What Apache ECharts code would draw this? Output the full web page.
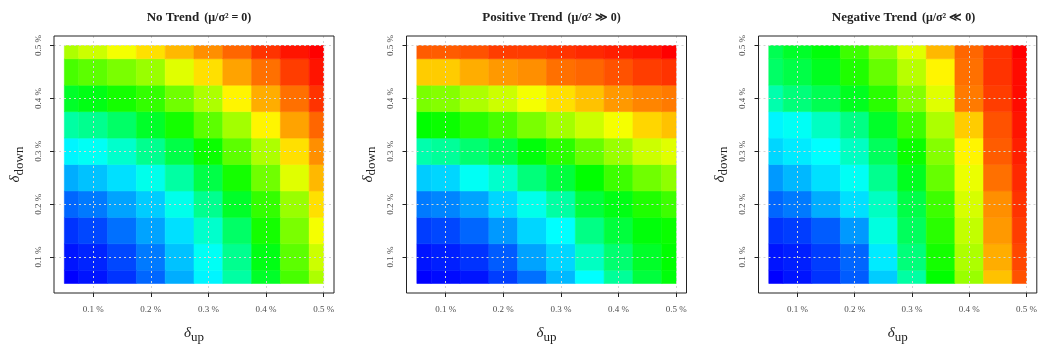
<!DOCTYPE html>
<html>
<head>
<meta charset="utf-8">
<script src="https://cdn.jsdelivr.net/npm/echarts@6/dist/echarts.min.js"></script>
<style>
  html, body { margin: 0; padding: 0; background: #fff; }
  #chart { width: 1040px; height: 349px; }
</style>
</head>
<body>
<div id="chart"></div>
<script>
// grid points (in %) where the colour level was read
const upVals = [0.05, 0.1, 0.15, 0.2, 0.25, 0.3, 0.35, 0.4, 0.45, 0.5];
const downVals = [0.05, 0.1, 0.15, 0.2, 0.25, 0.3, 0.35, 0.4, 0.45, 0.5];
const tickVals = [0.1, 0.2, 0.3, 0.4, 0.5];

// colour level 0 (blue) .. 1 (red), one row per delta_down, columns = delta_up
const noTrend = [
  [0.00, 0.02, 0.05, 0.10, 0.17, 0.24, 0.34, 0.46, 0.57, 0.67],
  [0.02, 0.035, 0.07, 0.12, 0.19, 0.26, 0.36, 0.48, 0.59, 0.70],
  [0.05, 0.07, 0.11, 0.16, 0.22, 0.30, 0.40, 0.52, 0.62, 0.74],
  [0.10, 0.12, 0.16, 0.20, 0.27, 0.36, 0.46, 0.55, 0.65, 0.78],
  [0.17, 0.19, 0.22, 0.27, 0.34, 0.43, 0.52, 0.61, 0.72, 0.82],
  [0.24, 0.26, 0.30, 0.36, 0.43, 0.51, 0.59, 0.67, 0.78, 0.86],
  [0.34, 0.36, 0.40, 0.46, 0.52, 0.59, 0.66, 0.76, 0.84, 0.90],
  [0.46, 0.48, 0.52, 0.55, 0.61, 0.67, 0.76, 0.83, 0.89, 0.95],
  [0.57, 0.59, 0.62, 0.65, 0.72, 0.78, 0.84, 0.89, 0.94, 0.98],
  [0.67, 0.70, 0.74, 0.78, 0.82, 0.86, 0.90, 0.95, 0.98, 1.00]
];
const positiveTrend = [
  [0.00, 0.01, 0.02, 0.06, 0.11, 0.18, 0.25, 0.35, 0.44, 0.49],
  [0.02, 0.03, 0.05, 0.09, 0.16, 0.21, 0.31, 0.39, 0.46, 0.50],
  [0.06, 0.07, 0.10, 0.15, 0.21, 0.25, 0.37, 0.44, 0.49, 0.51],
  [0.12, 0.13, 0.16, 0.21, 0.27, 0.34, 0.44, 0.48, 0.53, 0.56],
  [0.20, 0.21, 0.26, 0.30, 0.38, 0.44, 0.50, 0.56, 0.61, 0.64],
  [0.33, 0.35, 0.39, 0.43, 0.49, 0.54, 0.60, 0.65, 0.70, 0.72],
  [0.50, 0.51, 0.54, 0.57, 0.62, 0.66, 0.70, 0.74, 0.79, 0.81],
  [0.62, 0.63, 0.67, 0.70, 0.74, 0.78, 0.81, 0.85, 0.87, 0.88],
  [0.80, 0.80, 0.83, 0.85, 0.86, 0.89, 0.90, 0.92, 0.94, 0.95],
  [0.91, 0.91, 0.92, 0.94, 0.94, 0.95, 0.96, 0.97, 0.98, 1.00]
];
const negativeTrend = [
  [0.00, 0.02, 0.05, 0.09, 0.20, 0.34, 0.50, 0.65, 0.81, 0.92],
  [0.02, 0.03, 0.06, 0.10, 0.23, 0.38, 0.52, 0.67, 0.83, 0.93],
  [0.05, 0.06, 0.09, 0.15, 0.28, 0.41, 0.54, 0.69, 0.85, 0.94],
  [0.10, 0.12, 0.17, 0.22, 0.31, 0.43, 0.56, 0.71, 0.86, 0.95],
  [0.15, 0.18, 0.22, 0.26, 0.36, 0.47, 0.60, 0.73, 0.89, 0.96],
  [0.21, 0.23, 0.25, 0.31, 0.41, 0.51, 0.63, 0.76, 0.91, 0.97],
  [0.24, 0.26, 0.31, 0.37, 0.46, 0.56, 0.67, 0.80, 0.92, 0.98],
  [0.33, 0.38, 0.42, 0.47, 0.54, 0.63, 0.72, 0.88, 0.94, 0.99],
  [0.40, 0.43, 0.47, 0.53, 0.60, 0.68, 0.76, 0.89, 0.95, 0.99],
  [0.42, 0.46, 0.49, 0.56, 0.64, 0.72, 0.82, 0.90, 0.95, 1.00]
];

const panelTitles = [
  ['No Trend', '(μ/σ² = 0)'],
  ['Positive Trend', '(μ/σ² ≫ 0)'],
  ['Negative Trend', '(μ/σ² ≪ 0)']
];
const panelData = [noTrend, positiveTrend, negativeTrend];

const serif = '"Liberation Serif", "DejaVu Serif", serif';
const panelLeft = [54, 406.5, 758.5];
const boxW = 280, boxTop = 36, boxH = 264;
const half = 0.025, lo = 0.05, hi = 0.5;

function toTriples(grid) {
  const out = [];
  grid.forEach((row, i) => {
    row.forEach((v, j) => out.push([upVals[j], downVals[i], v]));
  });
  return out;
}

function renderCell(params, api) {
  const x = api.value(0), y = api.value(1);
  const p0 = api.coord([Math.max(x - half, lo), Math.min(y + half, hi)]);
  const p1 = api.coord([Math.min(x + half, hi), Math.max(y - half, lo)]);
  const c = api.visual('color');
  return {
    type: 'rect',
    shape: { x: p0[0], y: p0[1], width: p1[0] - p0[0], height: p1[1] - p0[1] },
    style: { fill: c, stroke: c, lineWidth: 0.6 }
  };
}

const nameRich = {
  d: { fontSize: 15, fontFamily: serif, fontStyle: 'italic', color: '#222' },
  s: { fontSize: 13, fontFamily: serif, color: '#222', padding: [8, 0, 0, 0] }
};
const labelStyle = { fontSize: 9, fontFamily: serif, color: '#4d4d4d' };
const gridLine = { show: true, lineStyle: { color: '#d3d3d3', type: [2, 3], width: 1 } };

const chart = echarts.init(document.getElementById('chart'));
const option = {
  backgroundColor: '#fff',
  animation: false,
  title: panelTitles.map((t, i) => ({
    text: '{b|' + t[0] + '} {m|' + t[1] + '}',
    left: panelLeft[i] + boxW / 2,
    top: 4,
    textAlign: 'center',
    textStyle: {
      rich: {
        b: { fontSize: 13, fontWeight: 'bold', fontFamily: serif, color: '#222' },
        m: { fontSize: 12, fontFamily: serif, color: '#222' }
      }
    }
  })),
  grid: panelLeft.map(l => ({
    left: l, top: boxTop, width: boxW, height: boxH,
    show: true, borderColor: '#222', borderWidth: 1,
    backgroundColor: 'transparent', z: 10
  })),
  xAxis: panelLeft.map((l, i) => ({
    type: 'value', gridIndex: i, min: 0.032, max: 0.518, z: 5,
    axisLine: { show: false },
    axisTick: { show: true, length: 4, lineStyle: { color: '#222' }, customValues: tickVals },
    axisLabel: Object.assign({ customValues: tickVals, margin: 12, formatter: v => v.toFixed(1) + ' %' }, labelStyle),
    splitLine: gridLine,
    name: '{d|δ}{s|up}',
    nameLocation: 'middle',
    nameGap: 30,
    nameTextStyle: { rich: nameRich }
  })),
  yAxis: panelLeft.map((l, i) => ({
    type: 'value', gridIndex: i, min: 0.032, max: 0.518, z: 5,
    axisLine: { show: false },
    axisTick: { show: true, length: 4, lineStyle: { color: '#222' }, customValues: tickVals },
    axisLabel: Object.assign({ customValues: tickVals, margin: 11, rotate: 90, formatter: v => v.toFixed(1) + ' %' }, labelStyle),
    splitLine: gridLine,
    name: '{d|δ}{s|down}',
    nameLocation: 'middle',
    nameGap: 28,
    nameRotate: 90,
    nameTextStyle: { rich: nameRich }
  })),
  visualMap: {
    type: 'continuous', show: false, min: 0, max: 1, dimension: 2,
    seriesIndex: [0, 1, 2],
    inRange: { color: ['#0000ff', '#00ffff', '#00ff00', '#ffff00', '#ff0000'] }
  },
  series: panelData.map((g, i) => ({
    type: 'custom',
    xAxisIndex: i, yAxisIndex: i,
    dimensions: ['up', 'down', 'level'],
    encode: { x: 0, y: 1 },
    renderItem: renderCell,
    data: toTriples(g),
    z: 2
  }))
};
chart.setOption(option);
</script>
</body>
</html>
